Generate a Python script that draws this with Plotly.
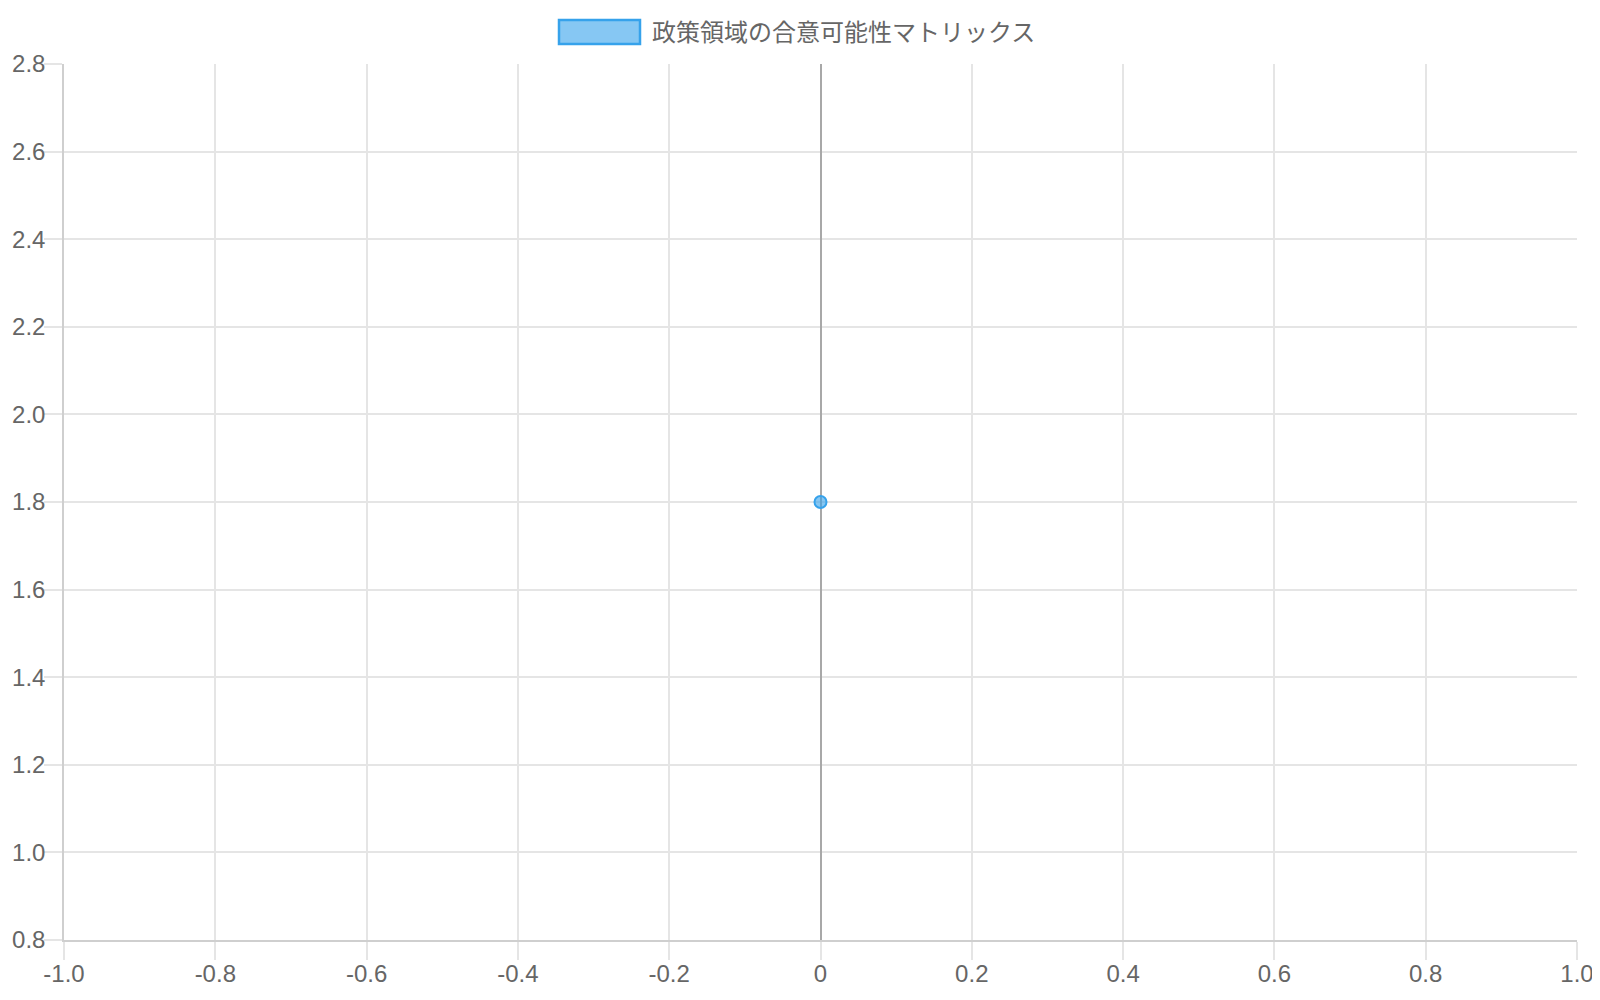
import plotly.graph_objects as go

# データ
series_name = '政策領域の合意可能性マトリックス'
x_vals = [0]
y_vals = [1.8]

x_ticks = [-1.0, -0.8, -0.6, -0.4, -0.2, 0, 0.2, 0.4, 0.6, 0.8, 1.0]
x_tick_labels = ['-1.0', '-0.8', '-0.6', '-0.4', '-0.2', '0', '0.2', '0.4', '0.6', '0.8', '1.0']
y_ticks = [0.8, 1.0, 1.2, 1.4, 1.6, 1.8, 2.0, 2.2, 2.4, 2.6, 2.8]
y_tick_labels = ['0.8', '1.0', '1.2', '1.4', '1.6', '1.8', '2.0', '2.2', '2.4', '2.6', '2.8']

bleu = 'rgb(54,162,235)'
bleu_clair = 'rgba(54,162,235,0.6)'
police = 'Liberation Sans, Noto Sans CJK JP, sans-serif'

fig = go.Figure()

fig.add_trace(go.Scatter(
    x=x_vals, y=y_vals, mode='markers', name=series_name, showlegend=False,
    marker=dict(size=12, color=bleu_clair, line=dict(color=bleu, width=2)),
))

axe = dict(
    showgrid=True, gridcolor='#e5e5e5', gridwidth=1.5,
    ticks='outside', ticklen=18, tickcolor='#e5e5e5', tickwidth=1.5,
    showline=True, linecolor='#cfcfcf', linewidth=1.5,
    tickfont=dict(family=police, size=24, color='#666666'),
    automargin=False,
)

# la page ajoute 8 px de marge au body
fig.update_layout(
    width=1600, height=1000,
    paper_bgcolor='white', plot_bgcolor='white',
    margin=dict(l=56, r=31, t=56, b=68),
    showlegend=False,
    xaxis=dict(axe, range=[-1, 1], tickvals=x_ticks, ticktext=x_tick_labels,
               ticklabelstandoff=-7,
               zeroline=True, zerolinecolor='#a8a8a8', zerolinewidth=1.5, mirror=False),
    yaxis=dict(axe, range=[0.8, 2.8], tickvals=y_ticks, ticktext=y_tick_labels,
               ticklabelstandoff=-6, zeroline=False),
)

# légende façon Chart.js (positions écran -> paper)
fig.add_shape(type='rect', xref='paper', yref='paper',
              x0=(559 - 64) / 1513, x1=(640 - 64) / 1513,
              y0=(940 - 44) / 876, y1=(940 - 20) / 876,
              fillcolor='rgba(54,162,235,0.6)', line=dict(color=bleu, width=2.5))
fig.add_annotation(xref='paper', yref='paper', x=(650 - 64) / 1513, y=(940 - 32) / 876,
                   text=series_name, showarrow=False, xanchor='left', yanchor='middle',
                   font=dict(family=police, size=24, color='#666666'))

fig.write_html('out.html')
